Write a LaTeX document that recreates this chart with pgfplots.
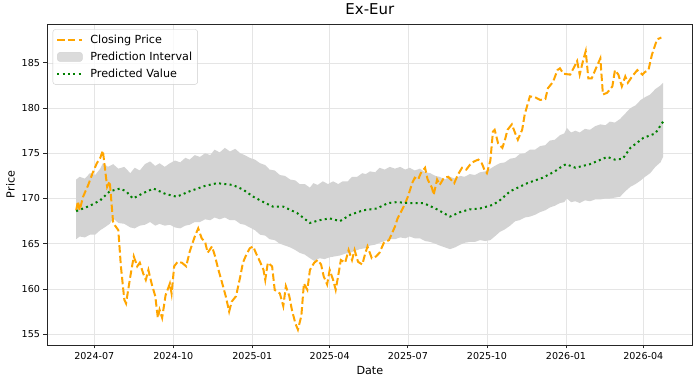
\documentclass[border=0pt]{standalone}
\usepackage{fontspec}
\setmainfont{DejaVu Sans}
\usepackage{pgfplots}
\pgfplotsset{compat=1.18}
\usepackage{pgfplotstable}
\usepgfplotslibrary{fillbetween}
\definecolor{cOrange}{HTML}{FFA500}
\definecolor{cGreen}{HTML}{008000}
\definecolor{cBand}{HTML}{D3D3D3}

% x = days since 2024-07-01
\pgfplotstableread{
d v
-21 168.7
-19 169.7
-17 168.7
-13 170.2
-7 171.5
-2 172.8
3 173.9
7 174.5
10 175.3
15 171.3
18 171.9
22 167.3
28 166.5
31 162.5
35 158.8
37 158.4
42 161.4
46 163.6
50 162.5
53 162.9
57 161.7
60 161.0
63 162.1
67 160.5
71 159.2
74 156.8
76 157.7
79 156.8
83 159.3
88 160.6
90 159.5
93 162.5
97 163.0
102 162.9
107 162.5
111 164.1
117 165.8
121 166.7
125 165.6
129 165.2
132 164.0
137 164.7
140 163.8
144 162.3
149 160.6
153 159.2
157 157.5
160 158.6
165 159.2
170 161.4
173 162.9
177 163.8
181 164.5
185 164.7
188 164.0
193 163.0
197 162.1
199 161.0
202 162.9
207 162.5
210 159.9
216 159.5
220 158.1
223 160.3
227 159.2
230 157.7
234 156.2
237 155.5
241 157.0
244 160.6
248 159.9
251 162.1
256 162.9
260 163.2
264 162.7
267 161.4
271 160.5
274 162.1
278 161.0
281 159.9
284 161.5
287 163.2
292 162.9
296 164.3
300 163.2
303 164.3
307 163.0
312 162.7
315 163.8
318 164.7
323 163.4
328 163.6
332 164.0
337 165.1
343 165.4
350 166.9
353 167.8
358 168.7
362 169.5
365 170.2
370 171.7
373 172.3
377 172.1
380 172.8
385 173.4
388 172.1
393 171.2
395 170.4
399 172.1
402 171.5
407 172.3
412 172.4
415 172.1
419 171.7
423 172.6
428 173.4
433 173.2
437 173.7
442 174.1
447 174.3
451 173.9
454 173.2
457 172.8
461 174.2
464 177.4
466 177.6
470 176.1
475 175.6
478 176.5
481 177.6
486 178.2
490 177.2
493 176.5
498 177.6
501 179.3
507 181.3
513 181.2
519 180.9
525 181.0
528 182.2
534 182.9
539 184.2
542 184.4
546 183.8
554 183.7
562 185.2
565 183.7
569 185.3
572 186.3
575 183.3
579 183.3
583 184.2
589 185.5
592 181.5
597 181.7
603 182.4
606 184.2
610 183.7
614 182.4
618 183.5
621 182.8
626 183.5
632 184.2
638 183.7
641 184.0
645 184.2
649 185.9
655 187.6
660 187.8
}\closingtab

\pgfplotstableread{
d v
-21 168.6
-5 169.2
7 169.8
18 170.8
30 171.1
37 170.8
45 170.0
57 170.6
69 171.1
83 170.5
96 170.2
111 170.8
129 171.4
143 171.7
161 171.5
173 171.0
185 170.2
197 169.6
208 169.1
220 169.1
236 168.4
251 167.3
262 167.6
274 167.8
286 167.5
298 168.2
313 168.7
329 168.9
342 169.5
352 169.6
365 169.5
383 169.5
397 168.9
414 168.0
426 168.5
437 168.8
449 168.9
464 169.3
472 169.8
484 170.8
504 171.7
522 172.3
536 173.0
542 173.4
549 173.8
560 173.4
577 173.8
597 174.6
606 174.3
615 174.4
624 175.6
639 176.7
653 177.2
662 178.5
}\predictedtab

\pgfplotstableread{
d v
-21 172.1
-17 172.4
-11 172.2
-5 172.8
1 172.6
7 173.3
10 173.9
16 173.5
22 173.8
28 173.3
35 173.5
42 172.8
47 173.4
53 173.1
59 173.8
65 174.1
71 173.6
76 173.9
82 173.5
88 173.9
94 174.2
100 174.0
106 174.5
111 174.3
117 174.8
123 174.6
129 175.0
135 174.8
140 175.4
146 175.1
152 175.6
158 175.2
164 175.5
170 175.0
175 174.8
181 174.5
187 174.3
193 173.9
199 173.7
204 173.2
210 173.1
216 172.6
222 172.5
228 172.1
234 172.0
239 171.6
245 171.6
251 171.2
255 171.7
260 171.5
266 171.9
272 171.6
278 171.9
284 171.6
289 171.9
295 171.9
300 172.4
306 172.4
312 172.8
316 172.7
321 173.0
327 172.9
332 173.4
338 173.2
344 173.5
350 173.3
356 173.5
362 173.2
367 173.4
373 173.1
379 173.3
385 172.9
391 172.8
397 172.5
402 172.4
408 172.1
414 172.4
420 172.2
426 172.5
431 172.4
437 172.7
443 172.6
449 172.9
455 173.0
461 173.3
466 173.6
472 173.9
478 174.0
484 174.4
490 174.5
495 174.9
501 175.0
507 175.4
513 175.4
519 175.8
525 175.9
530 176.4
536 176.5
542 177.0
547 177.2
550 177.8
555 177.3
560 177.5
565 177.3
571 177.7
577 177.6
583 178.0
589 178.2
595 178.1
600 178.5
606 178.4
612 178.8
618 179.4
624 180.0
630 180.3
636 180.9
641 181.2
647 181.5
653 182.1
659 182.5
662 182.8
}\uppertab

\pgfplotstableread{
d v
-21 165.5
-17 165.8
-11 165.7
-5 166.0
1 166.0
7 166.5
12 166.8
18 167.2
22 167.8
28 167.3
35 167.2
42 166.8
47 166.7
53 167.0
59 167.1
65 167.4
71 167.0
76 167.2
82 167.0
88 167.1
94 166.8
100 166.7
106 167.0
111 167.1
117 167.4
123 167.4
129 167.7
135 167.6
140 167.9
146 167.7
152 167.9
158 167.6
164 167.6
170 167.2
175 167.1
181 166.8
187 166.5
193 166.0
199 165.9
204 165.5
210 165.4
216 165.0
222 164.8
228 164.6
234 164.3
239 164.0
245 163.8
251 163.4
256 163.1
262 163.4
268 163.3
274 163.5
280 163.6
286 163.7
292 163.9
298 164.0
303 164.2
309 164.4
315 164.5
321 164.8
327 164.9
332 165.1
338 165.3
344 165.5
350 165.5
356 165.7
362 165.6
367 165.8
373 165.6
379 165.6
385 165.3
391 165.2
397 165.0
402 164.8
408 164.6
414 164.4
420 164.6
426 164.9
431 165.1
437 165.2
443 165.2
449 165.4
455 165.3
461 165.4
466 165.8
472 166.3
478 166.6
484 167.0
490 167.5
495 167.6
501 167.9
507 168.0
513 168.2
519 168.5
525 168.7
530 169.0
536 169.2
542 169.5
547 169.6
550 170.0
555 169.6
560 169.7
565 169.5
571 169.8
577 169.7
583 169.9
589 169.9
595 170.0
600 170.0
606 170.1
612 170.2
618 170.8
624 171.3
630 171.6
636 172.0
641 172.4
647 172.8
653 173.5
659 174.0
662 174.6
}\lowertab

\begin{document}
\begin{tikzpicture}
\begin{axis}[
  name=ax,
  scale only axis, width=645.7bp, height=321bp,
  xmin=-55, xmax=696.5, ymin=153.8, ymax=189.3,
  xtick={0,92,184,274,365,457,549,639},
  xticklabels={2024-07,2024-10,2025-01,2025-04,2025-07,2025-10,2026-01,2026-04},
  ytick={155,160,165,170,175,180,185},
  tick pos=left, tick align=outside, major tick length=3.5bp,
  grid=major, grid style={black!10, line width=0.6bp},
  axis line style={black!85, line width=0.8bp},
  tick style={black!85, line width=0.8bp},
  ticklabel style={font=\fontsize{9.6}{11}\selectfont},
  /pgf/number format/assume math mode=true,
  xlabel={Date}, ylabel={Price},
  label style={font=\fontsize{11.2}{13}\selectfont},
  title={Ex-Eur},
  title style={font=\fontsize{15}{17}\selectfont, at={(0.5,1)}, anchor=south, yshift=0bp},
  legend cell align=left,
  legend style={at={(0,1)}, anchor=north west, xshift=5.7bp, yshift=-5.3bp,
    draw=black!20, rounded corners=2.5bp, fill=white, fill opacity=0.8, text opacity=1,
    font=\fontsize{11.2}{13}\selectfont, inner xsep=3.5bp, inner ysep=3.8bp,
    row sep=2.7bp, column sep=5bp},
  legend image code/.code={\draw[#1] (0bp,0bp) -- (25bp,0bp);},
]
\addplot[name path=U, draw=none, forget plot] table[x=d,y=v]{\uppertab};
\addplot[name path=L, draw=none, forget plot] table[x=d,y=v]{\lowertab};
\addplot[cBand, draw=none, forget plot] fill between[of=U and L];

\addplot[cOrange, line width=2bp, dash pattern=on 7.4bp off 3.2bp] table[x=d,y=v]{\closingtab};
\addlegendentry{Closing Price}
\addlegendimage{legend image code/.code={\fill[cBand] (0bp,-4.5bp) rectangle (25bp,4.5bp);}}
\addlegendentry{Prediction Interval}
\addplot[cGreen, line width=2bp, dash pattern=on 2bp off 3.3bp] table[x=d,y=v]{\predictedtab};
\addlegendentry{Predicted Value}
\end{axis}
\pgfresetboundingbox
\path ([shift={(-47bp,-38bp)}]ax.south west) rectangle ([shift={(7.3bp,24bp)}]ax.north east);
\end{tikzpicture}
\end{document}
